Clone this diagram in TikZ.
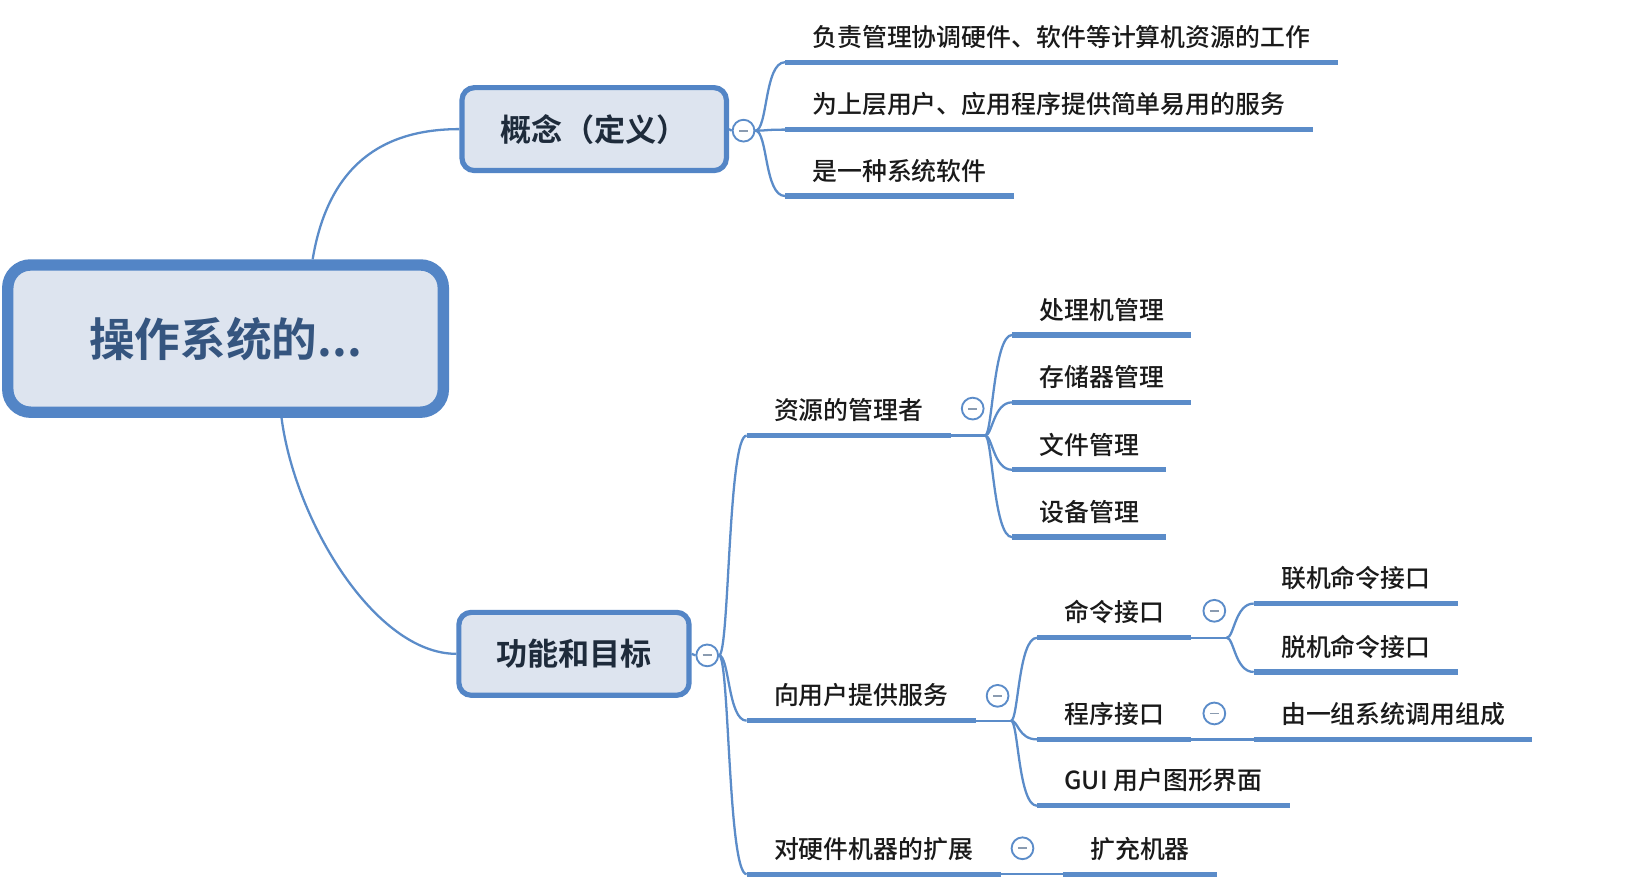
\documentclass[tikz,border=0pt]{standalone}
\usepackage{fontspec}
\setmainfont{Noto Sans CJK SC}[BoldFont={Noto Sans CJK SC Bold}]
\newfontfamily\medfont{Noto Sans CJK SC Medium}
\definecolor{lineblue}{HTML}{5B8CC9}
\definecolor{boxborder}{HTML}{5385C6}
\definecolor{boxfill}{HTML}{DDE4EF}
\definecolor{roottext}{HTML}{35557F}
\definecolor{boxtext}{HTML}{1E2B3B}
\definecolor{leaftext}{HTML}{1A1A1A}
\definecolor{minusgrey}{HTML}{8A9BB0}
\tikzset{
  rootbox/.style={draw=boxborder, line width=5.5pt, fill=boxfill, rounded corners=11pt,
    minimum width=210pt, minimum height=71pt, inner sep=0pt,
    font=\fontsize{22}{26}\selectfont\bfseries, text=roottext},
  mainbox/.style={draw=boxborder, line width=2.5pt, fill=boxfill, rounded corners=6pt,
    minimum height=40pt, inner sep=0pt, font=\fontsize{15}{18}\selectfont\bfseries, text=boxtext},
  leaf/.style={anchor=south west, inner xsep=13pt, inner ysep=5.4pt, text height=10pt,
    text depth=2pt, font=\fontsize{12}{14}\selectfont\medfont, text=leaftext,
    append after command={\pgfextra{\draw[uline] (\tikzlastnode.south west) -- (\tikzlastnode.south east);}}},
  uline/.style={draw=lineblue, line width=2.6pt},
  branch/.style={draw=lineblue, line width=1.1pt},
  toggle/.style={circle, draw=lineblue, line width=0.9pt, fill=white, minimum size=10.5pt, inner sep=0pt,
    path picture={\draw[minusgrey, line width=0.9pt]
      ([xshift=-2.2pt]path picture bounding box.center) -- ([xshift=2.2pt]path picture bounding box.center);}},
}
\begin{document}
\begin{tikzpicture}[x=0.5pt, y=-0.5pt]
\fill[white] (0,0) rectangle (1568,852);
\useasboundingbox (0,0) rectangle (1568,852);

% main boxes
\node[rootbox] (root) at (217.5,326.5) {操作系统的...};
\node[mainbox, minimum width=127.5pt] (concept) at (573,124.5) {概念（定义）};
\node[mainbox, minimum width=111pt] (func) at (553.5,630.5) {功能和目标};

% root connectors
\coordinate (rtop) at ([xshift=42pt]root.north);
\coordinate (rbot) at ([xshift=27pt]root.south);
\draw[branch] (rtop) .. controls +(15,-90) and +(-75,0) .. (concept.west);
\draw[branch] (rbot) .. controls +(13,100) and +(-78,0) .. (func.west);

% concept branch
\node[toggle] (cT) at (717,126) {};
\draw[branch] (concept.east) -- (cT.west);
\node[leaf] (c1) at (757,60) {负责管理协调硬件、软件等计算机资源的工作};
\node[leaf] (c2) at (757,125) {为上层用户、应用程序提供简单易用的服务};
\node[leaf] (c3) at (757,189) {是一种系统软件};
\foreach \c in {c1,c2,c3}
  \draw[branch] (cT.east) .. controls +(12,0) and +(-20,0) .. (\c.south west);

% function branch
\node[toggle] (fT) at (682,632) {};
\draw[branch] (func.east) -- (fT.west);
\node[leaf] (res) at (720,420) {资源的管理者};
\node[leaf] (svc) at (720,695) {向用户提供服务};
\node[leaf] (hw) at (720,843) {对硬件机器的扩展};
\foreach \c in {res,svc,hw}
  \draw[branch] (fT.east) .. controls +(10,0) and +(-18,0) .. (\c.south west);

% resources
\node[toggle] (resT) at (938,394) {};
\coordinate (resS) at (950,420);
\draw[branch] (res.south east) -- (resS);
\node[leaf] (r1) at (976,323) {处理机管理};
\node[leaf] (r2) at (976,388) {存储器管理};
\node[leaf] (r3) at (976,453) {文件管理};
\node[leaf] (r4) at (976,518) {设备管理};
\foreach \c in {r1,r2,r3,r4}
  \draw[branch] (resS) .. controls +(7,0) and +(-18,0) .. (\c.south west);

% services
\node[toggle] (svcT) at (962,671) {};
\coordinate (svcS) at (975,695);
\draw[branch] (svc.south east) -- (svcS);
\node[leaf] (cmd) at (1000,615) {命令接口};
\node[leaf] (prog) at (1000,713) {程序接口};
\node[leaf] (gui) at (1000,777) {GUI 用户图形界面};
\foreach \c in {cmd,prog,gui}
  \draw[branch] (svcS) .. controls +(7,0) and +(-18,0) .. (\c.south west);

% command interface
\node[toggle] (cmdT) at (1171,589) {};
\coordinate (cmdS) at (1183,615);
\draw[branch] (cmd.south east) -- (cmdS);
\node[leaf] (on) at (1209,582) {联机命令接口};
\node[leaf] (off) at (1209,648) {脱机命令接口};
\foreach \c in {on,off}
  \draw[branch] (cmdS) .. controls +(7,0) and +(-18,0) .. (\c.south west);

% program interface
\node[toggle] (progT) at (1171,688) {};
\node[leaf] (sys) at (1209,713) {由一组系统调用组成};
\draw[branch] (prog.south east) -- (sys.south west);

% hardware extension
\node[toggle] (hwT) at (986,818) {};
\node[leaf] (ext) at (1025,843) {扩充机器};
\draw[branch] (hw.south east) -- (ext.south west);
\end{tikzpicture}
\end{document}
